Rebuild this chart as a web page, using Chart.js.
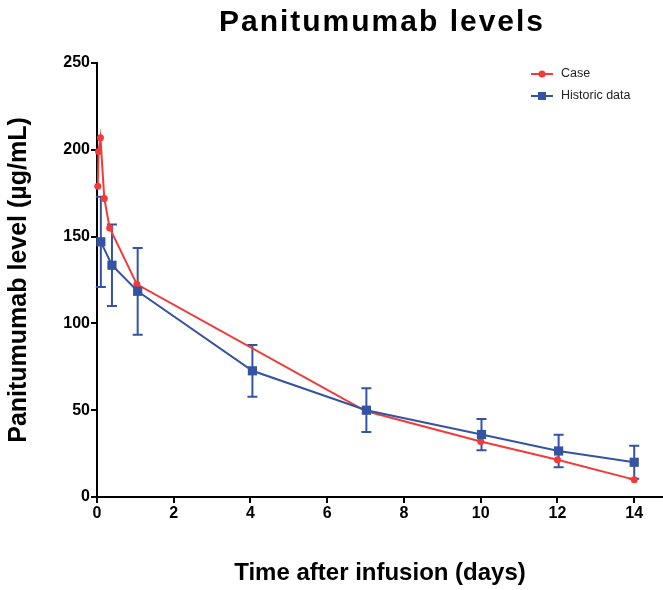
<!DOCTYPE html>
<html>
<head>
<meta charset="utf-8">
<script src="https://cdn.jsdelivr.net/npm/chart.js@4/dist/chart.umd.min.js"></script>
<style>
  html, body { margin: 0; padding: 0; background: #fff; }
  #wrap { width: 663px; height: 590px; }
</style>
</head>
<body>
<div id="wrap"><canvas id="pkChart" width="663" height="590"></canvas></div>
<script>
// case patient
const caseDays = [0.02, 0.04, 0.09, 0.19, 0.33, 1.04, 7, 10, 12, 14];
const caseLevels = [179, 199, 207, 172, 155, 122.5, 49.5, 32, 21.5, 10];
// historic data, mean +/- sd
const histDays = [0.1, 0.39, 1.06, 4.05, 7.02, 10.02, 12.03, 14];
const histLevels = [147, 133.5, 118.5, 72.7, 50, 36, 26.5, 20];
const histErr = [26, 23.5, 25, 14.9, 12.6, 9, 9.4, 9.5];
const yTicks = [0, 50, 100, 150, 200, 250];
const xTicks = [0, 2, 4, 6, 8, 10, 12, 14];

const red = "#f23a3a";
const blue = "#3553a3";
const font = "'Liberation Sans', Arial, sans-serif";

const ctx = document.getElementById("pkChart").getContext("2d");

function toPoints(xs, ys) {
  return xs.map((x, i) => ({ x: x, y: ys[i] }));
}

// error bars for the historic series
const errorBars = {
  id: "errorBars",
  beforeDatasetsDraw(chart) {
    const c = chart.ctx;
    const xs = chart.scales.x, ys = chart.scales.y;
    c.save();
    c.strokeStyle = blue;
    c.lineWidth = 2;
    histDays.forEach((d, i) => {
      const px = xs.getPixelForValue(d);
      const top = ys.getPixelForValue(histLevels[i] + histErr[i]);
      const bot = ys.getPixelForValue(histLevels[i] - histErr[i]);
      c.beginPath();
      c.moveTo(px, top); c.lineTo(px, bot);
      c.moveTo(px - 5, top); c.lineTo(px + 5, top);
      c.moveTo(px - 5, bot); c.lineTo(px + 5, bot);
      c.stroke();
    });
    c.restore();
  }
};

// title + legend drawn by hand so they sit where the original has them
const extras = {
  id: "extras",
  afterDraw(chart) {
    const c = chart.ctx;
    const area = chart.chartArea;
    c.save();
    c.fillStyle = "#000";
    c.font = "bold 30px " + font;
    c.letterSpacing = "2px";
    c.textAlign = "center";
    c.textBaseline = "middle";
    c.fillText("Panitumumab levels", (area.left + area.right) / 2 + 2, 23);
    c.letterSpacing = "0px";

    const items = [
      { label: chart.data.datasets[1].label, color: red, style: "circle" },
      { label: chart.data.datasets[0].label, color: blue, style: "rect" }
    ];
    c.font = "12.5px " + font;
    c.textAlign = "left";
    items.forEach((it, i) => {
      const y = 74 + i * 22;
      c.strokeStyle = it.color;
      c.fillStyle = it.color;
      c.lineWidth = 2;
      c.beginPath(); c.moveTo(531, y); c.lineTo(553, y); c.stroke();
      if (it.style === "circle") {
        c.beginPath(); c.arc(542, y, 3.5, 0, Math.PI * 2); c.fill();
      } else {
        c.fillRect(538, y - 4, 8, 8);
      }
      c.fillStyle = "#222";
      c.fillText(it.label, 561, y);
    });
    c.restore();
  }
};

new Chart(ctx, {
  type: "line",
  data: {
    datasets: [
      {
        label: "Historic data",
        data: toPoints(histDays, histLevels),
        borderColor: blue,
        backgroundColor: blue,
        borderWidth: 2,
        pointStyle: "rect",
        pointRadius: 6.5,
        pointBorderWidth: 0,
        clip: 8,
        order: 1
      },
      {
        label: "Case",
        data: toPoints(caseDays, caseLevels),
        borderColor: red,
        backgroundColor: red,
        borderWidth: 2,
        pointStyle: "circle",
        pointRadius: 3.5,
        pointBorderWidth: 0,
        clip: 8,
        order: 2
      }
    ]
  },
  options: {
    responsive: false,
    animation: false,
    layout: { autoPadding: false, padding: { top: 63, right: 0, left: 0, bottom: 0 } },
    plugins: {
      legend: { display: false },
      tooltip: { enabled: false }
    },
    scales: {
      x: {
        type: "linear",
        min: 0,
        max: 14.75,
        afterFit(s) { s.height = 93; s.paddingRight = 0; s.paddingLeft = 0; },
        afterBuildTicks(s) { s.ticks = xTicks.map(v => ({ value: v })); },
        grid: { display: true, drawOnChartArea: false, drawTicks: true, tickLength: 6, color: "#000", lineWidth: 2 },
        border: { display: true, color: "#000", width: 2 },
        ticks: { color: "#000", font: { family: font, size: 16, weight: "bold" }, padding: 1 },
        title: {
          display: true,
          text: "Time after infusion (days)",
          color: "#000",
          font: { family: font, size: 24, weight: "bold" },
          padding: { top: 4, bottom: 2 }
        }
      },
      y: {
        type: "linear",
        min: 0,
        max: 250,
        afterFit(s) { s.width = 97; },
        afterBuildTicks(s) { s.ticks = yTicks.map(v => ({ value: v })); },
        grid: { display: true, drawOnChartArea: false, drawTicks: true, tickLength: 6, color: "#000", lineWidth: 2 },
        border: { display: true, color: "#000", width: 2 },
        ticks: { color: "#000", font: { family: font, size: 16, weight: "bold" }, padding: 1 },
        title: {
          display: true,
          text: "Panitumumab level (µg/mL)",
          color: "#000",
          font: { family: font, size: 25, weight: "bold" },
          padding: { top: 4, bottom: 2 }
        }
      }
    }
  },
  plugins: [errorBars, extras]
});
</script>
</body>
</html>
